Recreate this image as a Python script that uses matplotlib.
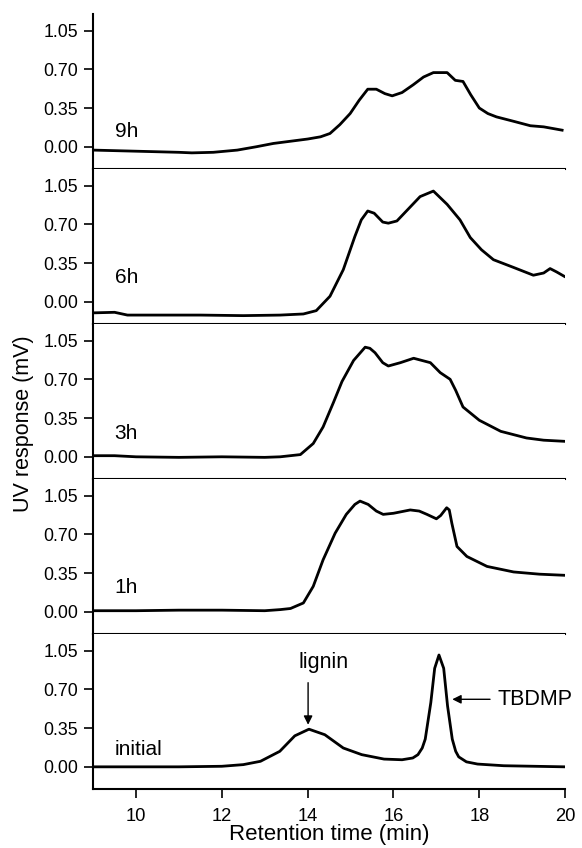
import numpy as np
import matplotlib
matplotlib.use("Agg")
import matplotlib.pyplot as plt

plt.rcParams['font.family'] = ['Liberation Sans', 'DejaVu Sans']

# Data (retention time in min, UV response in mV)
t_9h = [9.0, 9.5, 10.0, 10.5, 11.0, 11.3, 11.8, 12.36, 12.8, 13.2, 13.6, 14.0, 14.3,
        14.52, 14.75, 14.99, 15.2, 15.4, 15.6, 15.8, 15.97, 16.2, 16.46, 16.7, 16.93,
        17.25, 17.44, 17.62, 17.8, 18.0, 18.2, 18.4, 18.8, 19.19, 19.5, 19.93]
y_9h = [-0.03, -0.035, -0.04, -0.045, -0.05, -0.055, -0.05, -0.03, 0.0, 0.03, 0.05, 0.07, 0.09,
        0.12, 0.20, 0.30, 0.42, 0.52, 0.52, 0.48, 0.46, 0.49, 0.56, 0.63, 0.67,
        0.67, 0.60, 0.59, 0.47, 0.35, 0.30, 0.27, 0.23, 0.19, 0.18, 0.15]

t_6h = [9.0, 9.5, 9.8, 10.5, 11.5, 12.5, 13.36, 13.9, 14.2, 14.52, 14.83, 15.1, 15.25,
        15.4, 15.55, 15.75, 15.88, 16.08, 16.35, 16.62, 16.93, 17.25, 17.55, 17.79,
        18.05, 18.33, 18.8, 19.26, 19.5, 19.65, 19.8, 19.98]
y_6h = [-0.10, -0.095, -0.12, -0.12, -0.12, -0.125, -0.12, -0.11, -0.08, 0.05, 0.29, 0.59, 0.74,
        0.82, 0.80, 0.72, 0.71, 0.73, 0.84, 0.95, 1.00, 0.88, 0.74, 0.58,
        0.47, 0.38, 0.31, 0.24, 0.26, 0.30, 0.27, 0.23]

t_3h = [9.0, 9.5, 10.0, 11.0, 12.0, 13.0, 13.36, 13.83, 14.13, 14.36, 14.6, 14.8, 15.07,
        15.34, 15.45, 15.57, 15.75, 15.88, 16.16, 16.47, 16.86, 17.09, 17.32, 17.45,
        17.62, 18.0, 18.5, 19.1, 19.5, 19.98]
y_3h = [0.01, 0.01, 0.0, -0.005, 0.0, -0.005, 0.0, 0.02, 0.12, 0.27, 0.49, 0.68, 0.87,
        0.99, 0.98, 0.94, 0.85, 0.82, 0.85, 0.89, 0.85, 0.76, 0.70, 0.60,
        0.45, 0.33, 0.23, 0.17, 0.15, 0.14]

t_1h = [9.0, 10.0, 11.0, 12.0, 13.0, 13.36, 13.6, 13.9, 14.13, 14.36, 14.64, 14.9, 15.1,
        15.22, 15.41, 15.6, 15.76, 16.0, 16.39, 16.6, 16.78, 17.0, 17.1, 17.24, 17.3,
        17.36, 17.48, 17.71, 18.18, 18.8, 19.4, 19.98]
y_1h = [0.01, 0.01, 0.015, 0.015, 0.01, 0.02, 0.03, 0.08, 0.23, 0.47, 0.71, 0.88, 0.97,
        1.00, 0.97, 0.91, 0.88, 0.89, 0.92, 0.91, 0.88, 0.84, 0.87, 0.94, 0.92,
        0.80, 0.59, 0.50, 0.41, 0.36, 0.34, 0.33]

t_init = [9.0, 11.0, 12.0, 12.5, 12.9, 13.35, 13.7, 14.03, 14.4, 14.83, 15.26, 15.78, 16.2,
          16.45, 16.57, 16.67, 16.74, 16.87, 16.96, 17.06, 17.17, 17.26, 17.37, 17.45,
          17.52, 17.7, 17.96, 18.57, 20.0]
y_init = [0.0, 0.0, 0.005, 0.02, 0.05, 0.14, 0.28, 0.34, 0.29, 0.17, 0.11, 0.07, 0.064,
          0.08, 0.11, 0.17, 0.25, 0.58, 0.89, 1.01, 0.89, 0.55, 0.25, 0.14,
          0.09, 0.045, 0.025, 0.01, 0.0]

labels = ['9h', '6h', '3h', '1h', 'initial']
label_y = [0.14, 0.22, 0.21, 0.22, 0.16]
curves = [(t_9h, y_9h), (t_6h, y_6h), (t_3h, y_3h), (t_1h, y_1h), (t_init, y_init)]
yticks = [0.00, 0.35, 0.70, 1.05]

fig = plt.figure(figsize=(5.82, 8.48), dpi=100)
left, width = 0.160, 0.811
bottom0, h = 0.0696, 0.1828

axes = []
for i, ((t, y), lab, ly) in enumerate(zip(curves, labels, label_y)):
    b = bottom0 + (4 - i) * h
    ax = fig.add_axes([left, b, width, h])
    ax.plot(t, y, color='black', lw=2.0)
    ax.set_xlim(9, 20)
    ax.set_ylim(-0.2, 1.2)
    ax.set_yticks(yticks)
    ax.set_yticklabels([f'{v:.2f}' for v in yticks])
    for s in ['top', 'right']:
        ax.spines[s].set_visible(False)
    for s in ['left', 'bottom']:
        ax.spines[s].set_linewidth(1.5)
    ax.tick_params(axis='y', direction='out', length=6.5, width=1.2,
                   labelsize=12.8, pad=4.5)
    ax.tick_params(axis='x', direction='out', length=6.5, width=1.2,
                   labelsize=13.2, pad=7.5)
    if i < 4:
        ax.tick_params(axis='x', bottom=False, labelbottom=False)
    else:
        ax.set_xticks([10, 12, 14, 16, 18, 20])
    ax.text(9.5, ly, lab, fontsize=15, va='center', ha='left')
    axes.append(ax)

axb = axes[-1]
axb.set_xlabel('Retention time (min)', fontsize=16, labelpad=-1)
fig.text(0.041, 0.5, 'UV response (mV)', rotation=90, fontsize=15.5,
         ha='center', va='center')

arrow = dict(arrowstyle='-|>', color='black', lw=1.0, mutation_scale=13,
             shrinkA=0, shrinkB=0)
axb.annotate('', xy=(14.01, 0.38), xytext=(14.01, 0.76), arrowprops=arrow)
axb.text(14.36, 0.94, 'lignin', fontsize=15.5, ha='center', va='center')
axb.annotate('', xy=(17.37, 0.61), xytext=(18.25, 0.61), arrowprops=arrow)
axb.text(18.42, 0.61, 'TBDMP', fontsize=15.5, ha='left', va='center', clip_on=False)

fig.savefig('out.png', dpi=100)
